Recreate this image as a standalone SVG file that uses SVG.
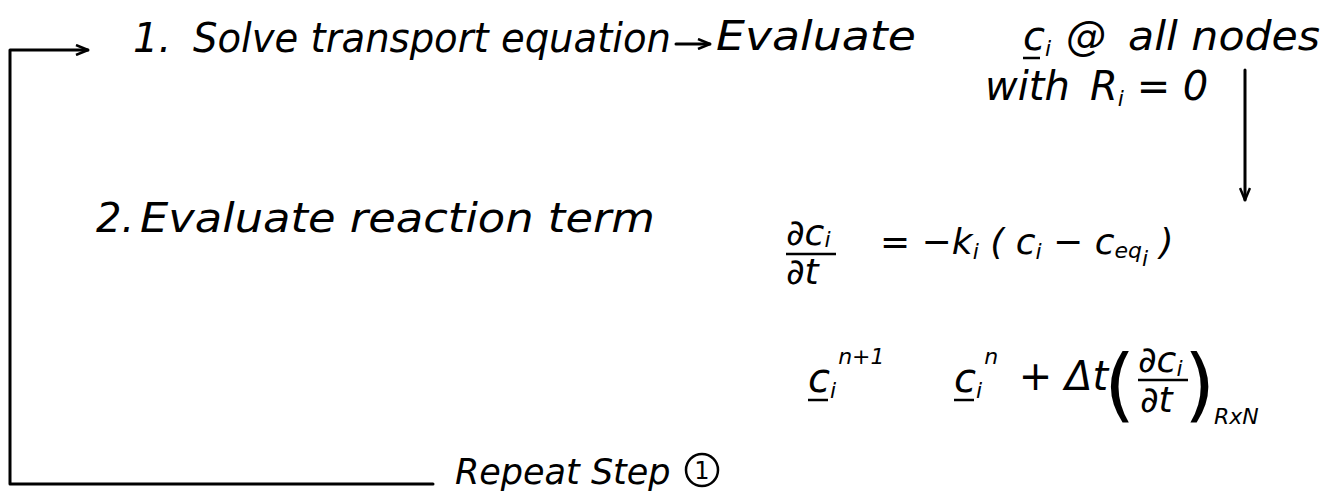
<svg xmlns="http://www.w3.org/2000/svg" width="1334" height="500" viewBox="0 0 1334 500">
<style>
  text { font-family: "DejaVu Sans", "Liberation Sans", sans-serif; font-style: italic; fill: #000; }
  .t { font-size: 40px; }
  .m { font-size: 36px; }
  .s { font-size: 22px; }
  .ln { stroke: #000; stroke-width: 3; fill: none; stroke-linecap: round; stroke-linejoin: round; }
  .u { stroke: #000; stroke-width: 2.5; }
</style>
<defs>
  <marker id="ah" viewBox="0 0 14 12" refX="13" refY="6" markerWidth="14" markerHeight="12" markerUnits="userSpaceOnUse" orient="auto">
    <path d="M1,1 L13,6 L1,11" fill="none" stroke="#000" stroke-width="2.5" stroke-linejoin="round"/>
  </marker>
</defs>
<rect width="1334" height="500" fill="#fff"/>

<g id="connectors">
  <path class="ln" d="M433,484 L10,484 L10,50 L88,50" marker-end="url(#ah)"/>
  <path class="ln" d="M676,44 L710,44" marker-end="url(#ah)"/>
  <path class="ln" d="M1245,70 L1245,200" marker-end="url(#ah)"/>
</g>

<g id="step1">
  <text class="t" x="133" y="52">1.</text>
  <text class="t" x="193" y="52" textLength="478" lengthAdjust="spacingAndGlyphs">Solve transport equation</text>
</g>

<g id="evaluate-c">
  <text class="t" x="716" y="50" textLength="200" lengthAdjust="spacingAndGlyphs">Evaluate</text>
  <text class="t" x="1023" y="50">c<tspan class="s" dy="6">i</tspan></text>
  <line class="u" x1="1023" y1="58" x2="1040" y2="58"/>
  <text class="t" x="1066" y="50">@</text>
  <text class="t" x="1128" y="50" textLength="192" lengthAdjust="spacingAndGlyphs">all nodes</text>
  <text class="t" x="985" y="100">with</text>
  <text class="t" x="1090" y="100">R<tspan class="s" dy="6">i</tspan><tspan dy="-6"> = 0</tspan></text>
</g>

<g id="step2">
  <text class="t" x="96" y="232">2.</text>
  <text class="t" x="140" y="232" textLength="515" lengthAdjust="spacingAndGlyphs">Evaluate reaction term</text>
</g>

<g id="rate-equation">
  <text class="m" x="786" y="245">∂c<tspan class="s" dy="2">i</tspan></text>
  <line class="u" x1="786" y1="254" x2="836" y2="254"/>
  <text class="m" x="786" y="284">∂t</text>
  <text class="m" x="880" y="254">= −k<tspan class="s" dy="5">i</tspan><tspan dy="-5"> ( c</tspan><tspan class="s" dy="5">i</tspan><tspan dy="-5"> − c</tspan><tspan class="s" dy="4">eq</tspan><tspan class="s" dy="8">i</tspan><tspan dy="-12"> )</tspan></text>
</g>

<g id="update-equation">
  <text class="t" x="808" y="392">c<tspan class="s" dy="6">i</tspan><tspan class="s" dx="2" dy="-34">n+1</tspan></text>
  <line class="u" x1="808" y1="400" x2="828" y2="400"/>
  <text class="t" x="954" y="392">c<tspan class="s" dy="6">i</tspan><tspan class="s" dx="2" dy="-34">n</tspan><tspan dx="8" dy="26"> + Δt</tspan></text>
  <line class="u" x1="954" y1="400" x2="974" y2="400"/>
  <text x="1104" y="412" style="font-size:80px;font-style:normal">(</text>
  <text class="m" x="1138" y="372">∂c<tspan class="s" dy="4">i</tspan></text>
  <line class="u" x1="1138" y1="380" x2="1188" y2="380"/>
  <text class="m" x="1140" y="412">∂t</text>
  <text x="1184" y="412" style="font-size:80px;font-style:normal">)</text>
  <text class="s" x="1214" y="424">RxN</text>
</g>

<g id="repeat">
  <text x="455" y="484" style="font-size:35px">Repeat Step</text>
  <circle cx="702" cy="470" r="16" fill="none" stroke="#000" stroke-width="2.5"/>
  <text x="702" y="479" text-anchor="middle" style="font-size:24px;font-style:normal">1</text>
</g>
</svg>
